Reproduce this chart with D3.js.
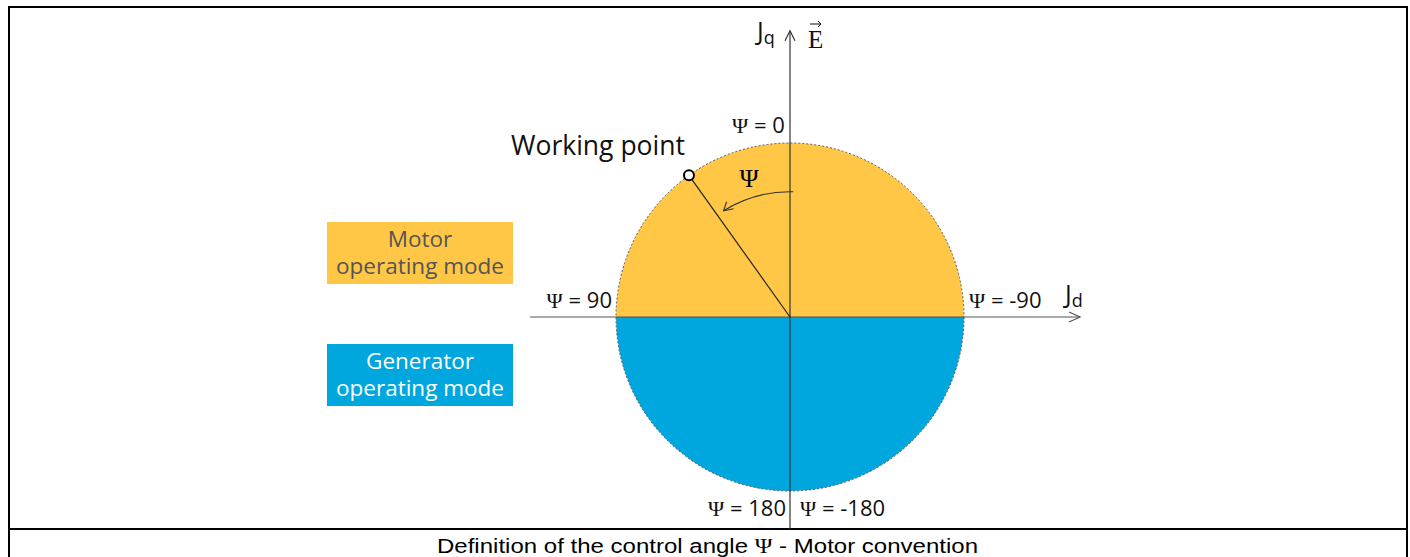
<!DOCTYPE html>
<html>
<head>
<meta charset="utf-8">
<script src="https://cdn.jsdelivr.net/npm/d3@7"></script>
<style>
  body { margin: 0; background: #fff; }
  svg { display: block; }
</style>
</head>
<body>
<div id="chart"></div>
<script>
// Operating modes (half discs of the circle)
var modes = ["Motor operating mode", "Generator operating mode"];
var modeLines = [["Motor", "operating mode"], ["Generator", "operating mode"]];
var modeColors = ["#ffc745", "#00a7de"];
var modeTextColors = ["#555555", "#ffffff"];
var modeStart = [-90, 90];   // degrees, clockwise from top
var modeEnd = [90, 270];

// Angle labels around the circle (value after "Ψ = ")
var psiValues = ["0", "90", "-90", "180", "-180"];

// Working point angle (degrees, counter-clockwise from q axis)
var workingAngle = 35.5;
var arcAngle = 32;

var W = 1410, H = 557;

var svg = d3.select("#chart")
    .append("svg")
    .attr("width", W)
    .attr("height", H);

// frame
svg.append("rect")
    .attr("x", 9).attr("y", 7)
    .attr("width", 1398).attr("height", 560)
    .attr("fill", "none")
    .attr("stroke", "#000")
    .attr("stroke-width", 2);
svg.append("line")
    .attr("x1", 9).attr("x2", 1407)
    .attr("y1", 529).attr("y2", 529)
    .attr("stroke", "#000").attr("stroke-width", 2);

var cap = svg.append("text")
    .attr("x", 437).attr("y", 553)
    .attr("font-family", "Liberation Sans, Arial, sans-serif")
    .attr("font-size", 20)
    .attr("textLength", 541)
    .attr("lengthAdjust", "spacingAndGlyphs");
cap.append("tspan").text("Definition of the control angle ");
cap.append("tspan").attr("font-family", "Liberation Serif, serif").text("\u03A8");
cap.append("tspan").text(" - Motor convention");

// scales: unit circle -> pixels
var x = d3.scaleLinear().domain([-1, 1]).range([616, 964]);
var y = d3.scaleLinear().domain([-1, 1]).range([491, 143]);
var r = x(1) - x(0);

var g = svg.append("g")
    .attr("transform", "translate(" + x(0) + "," + y(0) + ")");

// half discs
var arc = d3.arc().innerRadius(0).outerRadius(r);
g.selectAll("path.mode")
    .data(modes)
    .enter()
    .append("path")
    .attr("class", "mode")
    .attr("fill", function (d, i) { return modeColors[i] })
    .attr("d", function (d, i) {
        return arc({ startAngle: modeStart[i] * Math.PI / 180, endAngle: modeEnd[i] * Math.PI / 180 })
    });

// dotted outline
g.append("circle")
    .attr("r", r)
    .attr("fill", "none")
    .attr("stroke", "#555")
    .attr("stroke-width", 1)
    .attr("stroke-dasharray", "2,2");

// axes
svg.append("line")
    .attr("x1", x(-1.494)).attr("x2", x(1.667))
    .attr("y1", y(0)).attr("y2", y(0))
    .attr("stroke", "#555").attr("stroke-width", 1.2);
svg.append("path")
    .attr("d", "M" + (x(1.667) - 11) + "," + (y(0) - 5) + "L" + x(1.667) + "," + y(0) + "L" + (x(1.667) - 11) + "," + (y(0) + 5))
    .attr("fill", "none").attr("stroke", "#555").attr("stroke-width", 1.2);

svg.append("line")
    .attr("x1", x(0)).attr("x2", x(0))
    .attr("y1", y(-1.219)).attr("y2", y(1.645))
    .attr("stroke", "#333").attr("stroke-width", 1.2);
svg.append("path")
    .attr("d", "M" + (x(0) - 5) + "," + (y(1.645) + 10) + "L" + x(0) + "," + y(1.645) + "L" + (x(0) + 5) + "," + (y(1.645) + 10))
    .attr("fill", "none").attr("stroke", "#333").attr("stroke-width", 1.2);

// working point line
var wa = workingAngle * Math.PI / 180;
var wx = x(-Math.sin(wa)), wy = y(Math.cos(wa));
svg.append("line")
    .attr("x1", x(0)).attr("y1", y(0))
    .attr("x2", wx).attr("y2", wy)
    .attr("stroke", "#222").attr("stroke-width", 1.2);
svg.append("circle")
    .attr("cx", wx).attr("cy", wy).attr("r", 5)
    .attr("fill", "#fff").attr("stroke", "#000").attr("stroke-width", 2);

// angle arrow
var ar = 0.72 * r;
var arrowArc = d3.arc().innerRadius(ar).outerRadius(ar);
g.append("path")
    .attr("d", arrowArc({ startAngle: 1.5 * Math.PI / 180, endAngle: -arcAngle * Math.PI / 180 }))
    .attr("fill", "none").attr("stroke", "#333").attr("stroke-width", 1.1);
var ea = -arcAngle * Math.PI / 180;
var ex = ar * Math.sin(ea), ey = -ar * Math.cos(ea);
g.append("path")
    .attr("d", "M" + (ex + 3) + "," + (ey - 9) + "L" + ex + "," + ey + "L" + (ex + 10) + "," + (ey - 2))
    .attr("fill", "none").attr("stroke", "#333").attr("stroke-width", 1.1);

svg.append("text")
    .attr("x", 749).attr("y", 187)
    .attr("text-anchor", "middle")
    .attr("font-family", "Liberation Serif, serif")
    .attr("font-size", 26)
    .text("\u03A8");

svg.append("text")
    .attr("x", 511).attr("y", 155)
    .attr("font-family", "Open Sans, sans-serif")
    .attr("font-size", 26.5)
    .attr("fill", "#111")
    .text("Working point");

// psi labels
var lab = [
    { x: 732, y: 133, a: "start" },
    { x: 612, y: 308, a: "end" },
    { x: 969, y: 308, a: "start" },
    { x: 786, y: 516, a: "end" },
    { x: 800, y: 516, a: "start" }
];
var psi = svg.selectAll("text.psi")
    .data(psiValues)
    .enter()
    .append("text")
    .attr("class", "psi")
    .attr("x", function (d, i) { return lab[i].x })
    .attr("y", function (d, i) { return lab[i].y })
    .attr("text-anchor", function (d, i) { return lab[i].a })
    .attr("font-family", "Open Sans, sans-serif")
    .attr("font-size", 22)
    .attr("fill", "#111");
psi.append("tspan").attr("font-family", "Liberation Serif, serif").text("\u03A8");
psi.append("tspan").text(function (d) { return " = " + d });

// axis names
var jq = svg.append("text")
    .attr("x", 757).attr("y", 40)
    .attr("font-family", "Open Sans, sans-serif")
    .attr("font-size", 25).attr("fill", "#111");
jq.append("tspan").text("J");
jq.append("tspan").attr("font-size", 18).attr("dy", 4).text("q");

var jd = svg.append("text")
    .attr("x", 1065).attr("y", 303)
    .attr("font-family", "Open Sans, sans-serif")
    .attr("font-size", 25).attr("fill", "#111");
jd.append("tspan").text("J");
jd.append("tspan").attr("font-size", 18).attr("dy", 4).text("d");

svg.append("text")
    .attr("x", 808).attr("y", 48)
    .attr("font-family", "Liberation Serif, serif")
    .attr("font-size", 25).attr("fill", "#111")
    .text("E");
svg.append("path")
    .attr("d", "M810,24L821,24M818,21L821,24L818,27")
    .attr("fill", "none").attr("stroke", "#111").attr("stroke-width", 1);

// legend boxes
var boxY = [222, 344];
var leg = svg.selectAll("g.leg")
    .data(modes)
    .enter()
    .append("g")
    .attr("class", "leg")
    .attr("transform", function (d, i) { return "translate(327," + boxY[i] + ")" });
leg.append("rect")
    .attr("width", 186).attr("height", 62)
    .attr("fill", function (d, i) { return modeColors[i] });
leg.each(function (d, i) {
    var t = d3.select(this).append("text")
        .attr("text-anchor", "middle")
        .attr("font-family", "Open Sans, sans-serif")
        .attr("font-size", 22.5)
        .attr("font-weight", 500)
        .attr("fill", modeTextColors[i]);
    modeLines[i].forEach(function (s, k) {
        t.append("tspan").attr("x", 93).attr("y", 25 + k * 27).text(s);
    });
});
</script>
</body>
</html>
